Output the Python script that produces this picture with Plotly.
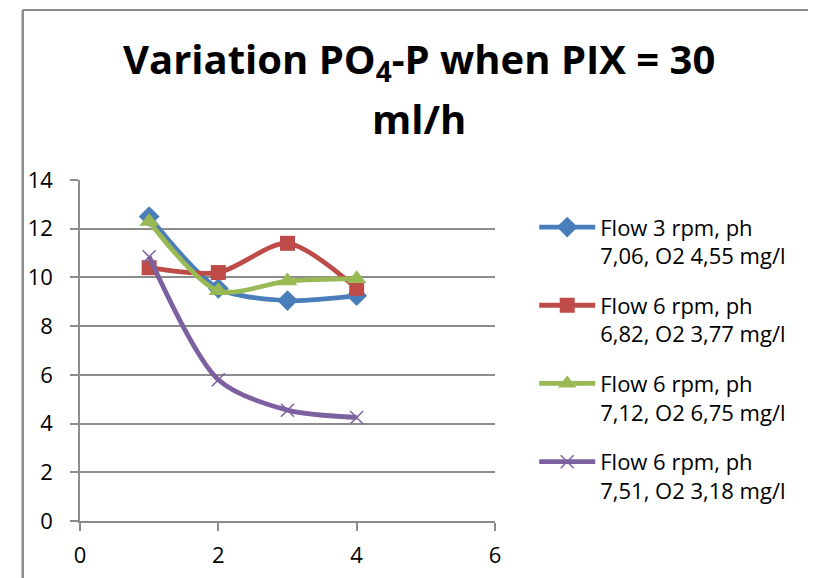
import plotly.graph_objects as go

x_vals = [1, 2, 3, 4]
flow3_ph706 = [12.5, 9.55, 9.05, 9.25]
flow6_ph682 = [10.4, 10.2, 11.4, 9.55]
flow6_ph712 = [12.3, 9.45, 9.85, 9.95]
flow6_ph751 = [10.85, 5.8, 4.55, 4.25]

title_line1 = "Variation PO<sub>4</sub>-P when PIX = 30"
title_line2 = "ml/h"

names = [
    "Flow 3 rpm, ph<br>7,06, O2 4,55 mg/l",
    "Flow 6 rpm, ph<br>6,82, O2 3,77 mg/l",
    "Flow 6 rpm, ph<br>7,12, O2 6,75 mg/l",
    "Flow 6 rpm, ph<br>7,51, O2 3,18 mg/l",
]
series = [flow3_ph706, flow6_ph682, flow6_ph712, flow6_ph751]
colors = ["#4A7EBB", "#BE4B48", "#98B954", "#7D60A0"]
symbols = ["diamond", "square", "triangle-up", "x-thin"]
sizes = [16, 15, 17, 13]

fig = go.Figure()
for i, (nm, ys, c, sym, sz) in enumerate(zip(names, series, colors, symbols, sizes)):
    marker = dict(symbol=sym, size=sz, color=c)
    if sym == "x-thin":
        marker["line"] = dict(color=c, width=1.5)
    fig.add_trace(go.Scatter(
        x=x_vals, y=ys, name=nm, mode="lines+markers",
        line=dict(color=c, width=4.8, shape="spline", smoothing=0.8),
        marker=marker, legendgroup=f"g{i}",
    ))

grid = "#8C8C8C"
fig.update_layout(
    width=816, height=578,
    margin=dict(l=72, r=329, t=172, b=65),
    paper_bgcolor="white", plot_bgcolor="white",
    font=dict(family="Open Sans", size=22, color="black"),
    showlegend=True,
    legend=dict(
        x=1.0945, xanchor="left", y=0.923, yanchor="top",
        valign="top", traceorder="grouped", tracegroupgap=18,
        itemwidth=56,
        font=dict(family="Open Sans", size=22, color="black"),
        bgcolor="rgba(0,0,0,0)",
    ),
    xaxis=dict(
        range=[0, 6], tickvals=[0, 2, 4, 6], showgrid=False,
        showline=True, linecolor=grid, linewidth=1.5,
        ticks="outside", ticklen=8, tickcolor=grid, tickwidth=1.5,
        zeroline=False, fixedrange=True, ticklabelstandoff=6,
    ),
    yaxis=dict(
        range=[0, 14], tickvals=[0, 2, 4, 6, 8, 10, 12, 14],
        showgrid=True, gridcolor=grid, gridwidth=1.5,
        showline=True, linecolor=grid, linewidth=1.5,
        ticks="outside", ticklen=8, tickcolor=grid, tickwidth=1.5,
        zeroline=False, fixedrange=True, ticklabelstandoff=13,
    ),
    annotations=[
        dict(text="<b>" + title_line1 + "</b>", xref="paper", yref="paper",
             x=0.818, y=1.349, xanchor="center", yanchor="middle",
             showarrow=False, font=dict(family="Open Sans", size=40, color="black")),
        dict(text="<b>" + title_line2 + "</b>", xref="paper", yref="paper",
             x=0.818, y=1.179, xanchor="center", yanchor="middle",
             showarrow=False, font=dict(family="Open Sans", size=40, color="black")),
    ],
    shapes=[
        dict(type="line", xref="paper", yref="paper",
             x0=-0.138, x1=1.8, y0=1.4985, y1=1.4985,
             line=dict(color="#8C8C8C", width=2), layer="above"),
        dict(type="line", xref="paper", yref="paper",
             x0=-0.138, x1=-0.138, y0=-0.25, y1=1.4985,
             line=dict(color="#8C8C8C", width=2.5), layer="above"),
    ],
)

fig.write_html("out.html")
